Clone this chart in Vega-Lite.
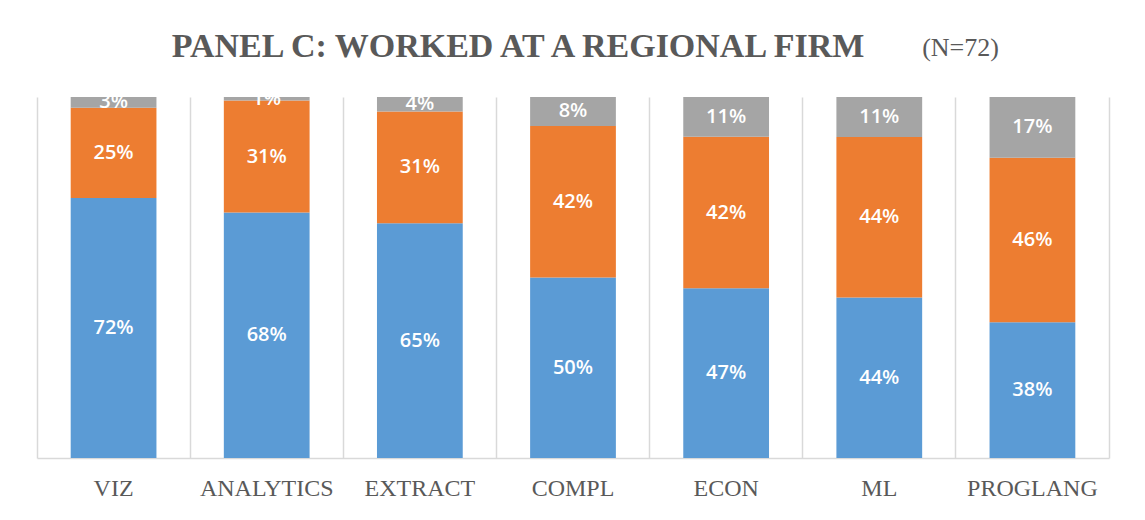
{
  "$schema": "https://vega.github.io/schema/vega-lite/v6.json",
  "width": 1072,
  "height": 361,
  "autosize": {"type": "none"},
  "padding": {"left": 37, "top": 97, "right": 36, "bottom": 62},
  "background": "white",
  "config": {"view": {"stroke": null}},
  "title": {
    "text": "PANEL C: WORKED AT A REGIONAL FIRM",
    "font": "Liberation Serif",
    "fontSize": 34,
    "fontWeight": "bold",
    "color": "#595959",
    "anchor": "middle",
    "dx": -55,
    "offset": 0,
    "dy": 30
  },
  "data": {
    "values": [
      {"skill": "VIZ", "series": "A", "pct": 0.72},
      {"skill": "VIZ", "series": "B", "pct": 0.25},
      {"skill": "VIZ", "series": "C", "pct": 0.03},
      {"skill": "ANALYTICS", "series": "A", "pct": 0.68},
      {"skill": "ANALYTICS", "series": "B", "pct": 0.31},
      {"skill": "ANALYTICS", "series": "C", "pct": 0.01},
      {"skill": "EXTRACT", "series": "A", "pct": 0.65},
      {"skill": "EXTRACT", "series": "B", "pct": 0.31},
      {"skill": "EXTRACT", "series": "C", "pct": 0.04},
      {"skill": "COMPL", "series": "A", "pct": 0.50},
      {"skill": "COMPL", "series": "B", "pct": 0.42},
      {"skill": "COMPL", "series": "C", "pct": 0.08},
      {"skill": "ECON", "series": "A", "pct": 0.47},
      {"skill": "ECON", "series": "B", "pct": 0.42},
      {"skill": "ECON", "series": "C", "pct": 0.11},
      {"skill": "ML", "series": "A", "pct": 0.44},
      {"skill": "ML", "series": "B", "pct": 0.44},
      {"skill": "ML", "series": "C", "pct": 0.11},
      {"skill": "PROGLANG", "series": "A", "pct": 0.38},
      {"skill": "PROGLANG", "series": "B", "pct": 0.46},
      {"skill": "PROGLANG", "series": "C", "pct": 0.17}
    ]
  },
  "encoding": {
    "x": {
      "field": "skill",
      "type": "nominal",
      "sort": ["VIZ", "ANALYTICS", "EXTRACT", "COMPL", "ECON", "ML", "PROGLANG"],
      "scale": {"paddingInner": 0.44, "paddingOuter": 0.22},
      "axis": {
        "title": null,
        "labelAngle": 0,
        "labelOverlap": false,
        "labelFont": "Liberation Serif",
        "labelFontSize": 24,
        "labelColor": "#595959",
        "labelPadding": 18,
        "ticks": false,
        "domain": true,
        "domainColor": "#D9D9D9",
        "domainWidth": 1.5,
        "grid": true,
        "gridColor": "#D9D9D9",
        "gridWidth": 1.5,
        "bandPosition": -0.392857
      }
    }
  },
  "layer": [
    {
      "mark": {"type": "bar"},
      "encoding": {
        "y": {
          "field": "pct",
          "type": "quantitative",
          "stack": "normalize",
          "scale": {"domain": [0, 1], "nice": false},
          "axis": {
            "orient": "right",
            "domain": true,
            "domainColor": "#D9D9D9",
            "domainWidth": 1.5,
            "labels": false,
            "ticks": false,
            "grid": false,
            "title": "(N=72)",
            "titleAngle": 0,
            "titleFont": "Liberation Serif",
            "titleFontSize": 26,
            "titleFontWeight": "normal",
            "titleColor": "#595959",
            "titleAlign": "center",
            "titleBaseline": "middle",
            "titleX": -149,
            "titleY": -50
          }
        },
        "color": {
          "field": "series",
          "type": "nominal",
          "scale": {"domain": ["A", "B", "C"], "range": ["#5B9BD5", "#ED7D31", "#A5A5A5"]},
          "legend": null
        },
        "order": {"field": "series"}
      }
    },
    {
      "transform": [
        {"stack": "pct", "groupby": ["skill"], "sort": [{"field": "series"}], "as": ["y0", "y1"], "offset": "normalize"},
        {"calculate": "(datum.y0 + datum.y1) / 2", "as": "ymid"}
      ],
      "mark": {"type": "text", "color": "white", "font": "Open Sans", "fontSize": 20, "fontWeight": 600, "clip": true, "baseline": "middle"},
      "encoding": {
        "y": {"field": "ymid", "type": "quantitative"},
        "text": {"field": "pct", "type": "quantitative", "format": ".0%"}
      }
    }
  ]
}
